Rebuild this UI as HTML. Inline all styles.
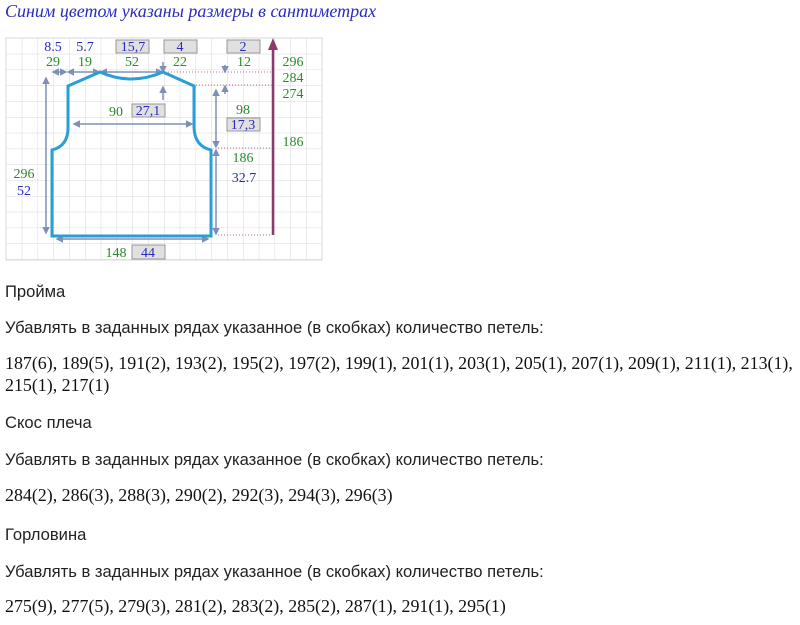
<!DOCTYPE html><html><head><meta charset="utf-8"><style>
body{margin:0;background:#fff;width:800px;height:625px;overflow:hidden;position:relative}
.t{position:absolute;left:5px;font-family:"Liberation Sans",sans-serif;font-size:16.6px;color:#222;white-space:nowrap}
.n{position:absolute;left:5px;font-family:"Liberation Serif",serif;font-size:17.9px;color:#111;white-space:nowrap}
</style></head><body>
<div style="position:absolute;left:5px;top:1px;font-family:'Liberation Serif',serif;font-style:italic;font-size:18px;color:#2a2ac0">Синим цветом указаны размеры в сантиметрах</div>
<svg style="position:absolute;left:0;top:0" width="330" height="265" font-family="Liberation Serif,serif" font-size="14">
<defs><pattern id="g" x="6" y="38" width="15.8" height="15.8" patternUnits="userSpaceOnUse"><path d="M0 0H15.8M0 0V15.8" stroke="#d8d8d8" fill="none"/></pattern>
<marker id="a" markerWidth="5" markerHeight="5" refX="4" refY="2.5" orient="auto-start-reverse"><path d="M0,0L5,2.5L0,5z" fill="#7f8fb8"/></marker></defs>
<rect x="6" y="38" width="316" height="222" fill="url(#g)" stroke="#d8d8d8"/>
<g stroke="#7f8fb8" stroke-width="1.5" fill="none" marker-end="url(#a)" marker-start="url(#a)">
<line x1="53" y1="72" x2="66" y2="72"/><line x1="68" y1="72" x2="99" y2="72"/><line x1="101" y1="72" x2="162" y2="72"/>
<line x1="74" y1="124" x2="192" y2="124"/><line x1="46" y1="78" x2="46" y2="233"/><line x1="216" y1="90" x2="216" y2="147"/><line x1="216" y1="150" x2="216" y2="234"/>
<line x1="57" y1="239" x2="208" y2="239"/></g>
<g stroke="#7f8fb8" stroke-width="1.5" marker-end="url(#a)"><line x1="163" y1="62" x2="163" y2="72"/><line x1="163" y1="100" x2="163" y2="87"/><line x1="225" y1="65" x2="225" y2="72"/><line x1="225" y1="94" x2="225" y2="86"/></g>
<g stroke="#b07090" stroke-dasharray="1,2"><line x1="165" y1="72" x2="272" y2="72"/><line x1="196" y1="85" x2="272" y2="85"/><line x1="218" y1="148" x2="272" y2="148"/><line x1="218" y1="235" x2="272" y2="235"/></g>
<path d="M52 236V150Q68 146 68 128V86L100 72Q131 86 163 72L194 86V126Q194 146 211 150V236Z" fill="none" stroke="#2a9fd6" stroke-width="3"/>
<line x1="273" y1="235" x2="273" y2="48" stroke="#8b3a6b" stroke-width="2.5"/><path d="M268 50L273 38L278 50z" fill="#8b3a6b"/>
<g fill="#e0e0e0" stroke="#999"><rect x="116" y="40" width="33" height="13"/><rect x="164" y="40" width="33" height="13"/><rect x="227" y="40" width="33" height="13"/><rect x="132" y="104" width="33" height="13"/><rect x="227" y="118" width="33" height="13"/><rect x="132" y="245" width="33" height="14"/></g>
<g fill="#2a2ac0" text-anchor="middle"><text x="53" y="51">8.5</text><text x="85" y="51">5.7</text><text x="133" y="51">15,7</text><text x="180" y="51">4</text><text x="243" y="51">2</text><text x="148" y="115">27,1</text><text x="243" y="129">17,3</text><text x="244" y="182">32.7</text><text x="24" y="195">52</text><text x="148" y="257">44</text></g>
<g fill="#2a8a2a" text-anchor="middle"><text x="53" y="66">29</text><text x="85" y="66">19</text><text x="132" y="66">52</text><text x="180" y="66">22</text><text x="244" y="66">12</text><text x="293" y="66">296</text><text x="293" y="82">284</text><text x="293" y="98">274</text><text x="116" y="116">90</text><text x="243" y="114">98</text><text x="293" y="146">186</text><text x="243" y="162">186</text><text x="24" y="178">296</text><text x="116" y="257">148</text></g>
</svg>
<div class="t" style="top:282px">Пройма</div>
<div class="t" style="top:318px">Убавлять в заданных рядах указанное (в скобках) количество петель:</div>
<div class="n" style="top:352px;line-height:22px">187(6), 189(5), 191(2), 193(2), 195(2), 197(2), 199(1), 201(1), 203(1), 205(1), 207(1), 209(1), 211(1), 213(1),<br>215(1), 217(1)</div>
<div class="t" style="top:413px">Скос плеча</div>
<div class="t" style="top:450px">Убавлять в заданных рядах указанное (в скобках) количество петель:</div>
<div class="n" style="top:485px">284(2), 286(3), 288(3), 290(2), 292(3), 294(3), 296(3)</div>
<div class="t" style="top:525px">Горловина</div>
<div class="t" style="top:562px">Убавлять в заданных рядах указанное (в скобках) количество петель:</div>
<div class="n" style="top:596px">275(9), 277(5), 279(3), 281(2), 283(2), 285(2), 287(1), 291(1), 295(1)</div>
</body></html>
